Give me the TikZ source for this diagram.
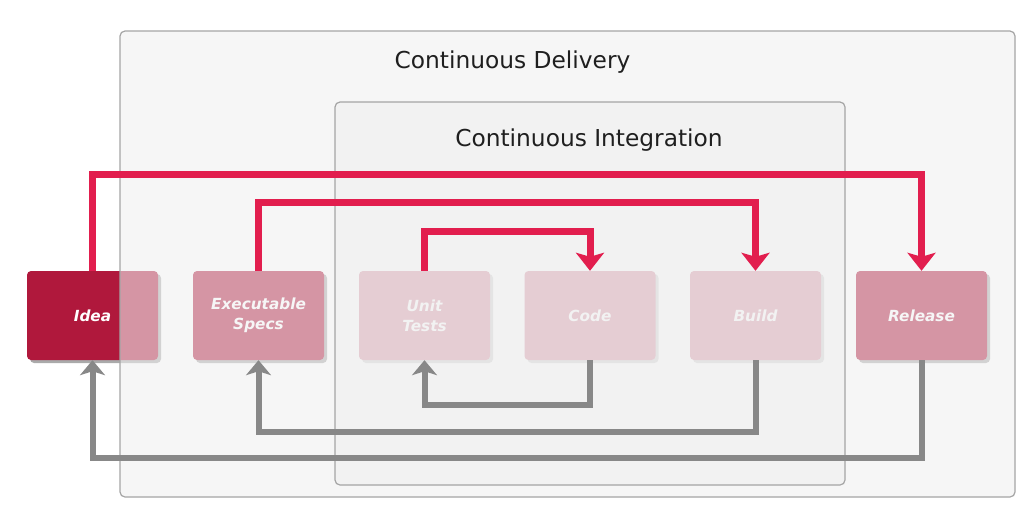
\documentclass[tikz,border=0pt]{standalone}
\usepackage{fontspec}
\setmainfont{DejaVu Sans}
\usetikzlibrary{arrows.meta}
\definecolor{ideared}{RGB}{176,24,60}
\definecolor{linered}{RGB}{226,30,78}
\definecolor{linegray}{RGB}{136,136,136}
\definecolor{framegray}{RGB}{165,165,165}
\definecolor{veil}{RGB}{240,240,240}
\definecolor{shadowgray}{RGB}{170,170,170}
\tikzset{
  stagebox/.style={minimum width=131pt, minimum height=89pt, inner sep=0pt,
    rounded corners=4pt, fill=ideared, text=white, align=center,
    font=\fontsize{15.3}{20}\selectfont\bfseries\itshape},
  boxshadow/.style={fill=shadowgray, rounded corners=4pt},
  frame/.style={rounded corners=5pt, draw=framegray, line width=1.2pt},
  forward/.style={draw=linered, line width=7pt,
    -{Stealth[length=18pt,width=28pt,inset=4pt]}},
  backward/.style={draw=linegray, line width=6pt,
    -{Stealth[length=15pt,width=25pt,inset=4pt]}},
  title/.style={anchor=base, font=\fontsize{23.3}{27}\selectfont, text=black!88}
}
\begin{document}
\begin{tikzpicture}[x=1pt,y=-1pt]
\fill[white] (0,0) rectangle (1020,509);
\useasboundingbox (0,0) rectangle (1020,509);
% shadows
\foreach \cx in {92.5,258.5,424.5,590,755.5,921.5}{
  \fill[boxshadow] (\cx-65.5+3,271+3) rectangle (\cx+65.5+3,360+3);
}
% stage boxes
\node[stagebox] (idea) at (92.5,315.5) {Idea};
\node[stagebox] (specs) at (258.5,315.5) {Executable\\Specs};
\node[stagebox] (unit) at (424.5,315.5) {Unit\\Tests};
\node[stagebox] (code) at (590,315.5) {Code};
\node[stagebox] (build) at (755.5,315.5) {Build};
\node[stagebox] (release) at (921.5,315.5) {Release};
% frames (translucent veils)
\path[frame, fill=veil, fill opacity=0.58] (120,31) rectangle (1015,497);
\path[frame, fill=veil, fill opacity=0.62] (335,102) rectangle (845,485);
\node[title] (cd) at (512.5,68.5) {Continuous Delivery};
\node[title] (ci) at (589,146.5) {Continuous Integration};
% forward connectors
\draw[forward] (idea.north) -- ++(0,-96) -| (release.north);
\draw[forward] (specs.north) -- ++(0,-68) -| (build.north);
\draw[forward] (unit.north) -- ++(0,-39) -| (code.north);
% backward connectors
\draw[backward] (code.south) -- ++(0,45) -| (unit.south);
\draw[backward] (build.south) -- ++(0,72) -| (specs.south);
\draw[backward] (release.south) -- ++(0,98) -| (idea.south);
\end{tikzpicture}
\end{document}
